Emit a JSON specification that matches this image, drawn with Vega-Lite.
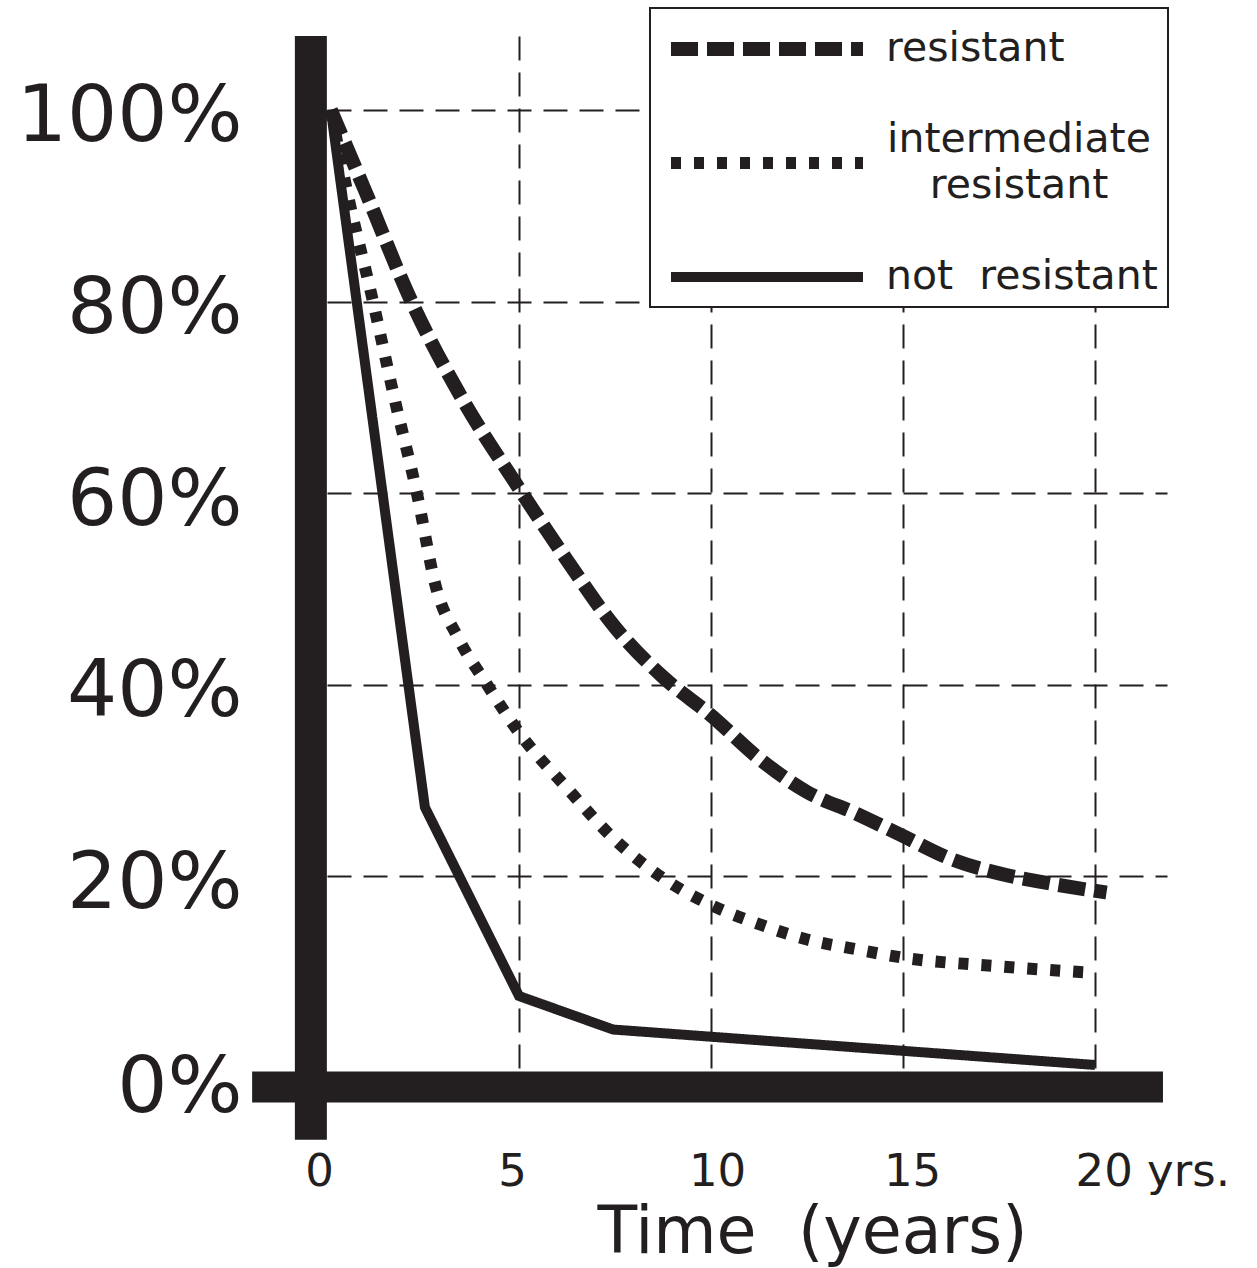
{
  "$schema": "https://vega.github.io/schema/vega-lite/v6.json",
  "autosize": {"type": "none"},
  "padding": {"left": 327, "top": 36, "right": 90, "bottom": 181},
  "width": 840,
  "height": 1051,
  "background": "white",
  "config": {
    "view": {"stroke": null},
    "font": "DejaVu Sans",
    "axis": {
      "domain": false,
      "ticks": false,
      "grid": true,
      "gridColor": "#231f20",
      "gridWidth": 2,
      "gridDash": [24, 12],
      "labelColor": "#231f20",
      "labelFont": "DejaVu Sans",
      "titleColor": "#231f20",
      "titleFont": "DejaVu Sans",
      "titleFontWeight": "normal"
    },
    "legend": {"strokeWidth": 2}
  },
  "datasets": {
    "curves": [
      {"series": "resistant", "year": 0.1, "pct": 100},
      {"series": "resistant", "year": 1.0, "pct": 91.5},
      {"series": "resistant", "year": 2.2, "pct": 80},
      {"series": "resistant", "year": 3.5, "pct": 70},
      {"series": "resistant", "year": 5.0, "pct": 60.5},
      {"series": "resistant", "year": 6.25, "pct": 53},
      {"series": "resistant", "year": 7.5, "pct": 46},
      {"series": "resistant", "year": 8.75, "pct": 40.8},
      {"series": "resistant", "year": 10.0, "pct": 36.8},
      {"series": "resistant", "year": 11.25, "pct": 32.3},
      {"series": "resistant", "year": 12.5, "pct": 28.8},
      {"series": "resistant", "year": 13.75, "pct": 26.6},
      {"series": "resistant", "year": 15.0, "pct": 24.2},
      {"series": "resistant", "year": 16.25, "pct": 21.8},
      {"series": "resistant", "year": 17.5, "pct": 20.3},
      {"series": "resistant", "year": 18.75, "pct": 19.3},
      {"series": "resistant", "year": 20.3, "pct": 18.3},
      {"series": "intermediate resistant", "year": 0.1, "pct": 100},
      {"series": "intermediate resistant", "year": 0.55, "pct": 91},
      {"series": "intermediate resistant", "year": 1.17, "pct": 80.5},
      {"series": "intermediate resistant", "year": 1.75, "pct": 70},
      {"series": "intermediate resistant", "year": 2.34, "pct": 60},
      {"series": "intermediate resistant", "year": 2.85, "pct": 50},
      {"series": "intermediate resistant", "year": 3.4, "pct": 45},
      {"series": "intermediate resistant", "year": 4.17, "pct": 40},
      {"series": "intermediate resistant", "year": 5.0, "pct": 35},
      {"series": "intermediate resistant", "year": 6.25, "pct": 29.2},
      {"series": "intermediate resistant", "year": 7.5, "pct": 23.8},
      {"series": "intermediate resistant", "year": 8.75, "pct": 19.8},
      {"series": "intermediate resistant", "year": 10.0, "pct": 17},
      {"series": "intermediate resistant", "year": 11.25, "pct": 15},
      {"series": "intermediate resistant", "year": 12.5, "pct": 13.4},
      {"series": "intermediate resistant", "year": 13.75, "pct": 12.4},
      {"series": "intermediate resistant", "year": 15.0, "pct": 11.5},
      {"series": "intermediate resistant", "year": 17.5, "pct": 10.6},
      {"series": "intermediate resistant", "year": 20.0, "pct": 9.9}
    ],
    "solid": [
      {"series": "not resistant", "year": 0.1, "pct": 100},
      {"series": "not resistant", "year": 2.55, "pct": 27.2},
      {"series": "not resistant", "year": 5.0, "pct": 7.5},
      {"series": "not resistant", "year": 7.45, "pct": 4.0},
      {"series": "not resistant", "year": 20.0, "pct": 0.3}
    ]
  },
  "layer": [
    {
      "data": {"name": "curves"},
      "mark": {"type": "line", "interpolate": "monotone", "color": "#231f20", "strokeCap": "butt"},
      "encoding": {
        "x": {
          "field": "year",
          "type": "quantitative",
          "scale": {"domain": [0, 21.875], "nice": false, "zero": false},
          "axis": {
            "values": [0, 5, 10, 15, 20],
            "labelExpr": "datum.value == 20 ? '20 yrs.' : datum.label",
            "labelFontSize": 45,
            "labelPadding": 62,
            "labelBaseline": "top",
            "labelLimit": 0,
            "labelAlign": {"condition": {"test": "datum.value == 20", "value": "left"}, "value": "center"},
            "labelOffset": {"condition": [
              {"test": "datum.value == 20", "value": -20},
              {"test": "datum.value == 0", "value": -8},
              {"test": "datum.value == 5", "value": -7},
              {"test": "datum.value == 10", "value": 6}
            ], "value": 9},
            "labelFlush": false,
            "labelOverlap": false,
            "gridOpacity": {"condition": {"test": "datum.value == 0", "value": 0}, "value": 1},
            "title": "Time\u00a0 (years)",
            "titleFontSize": 65,
            "titleX": 485,
            "titleY": 165,
            "titleAlign": "center",
            "titleBaseline": "alphabetic",
            "titleLimit": 0
          }
        },
        "y": {
          "field": "pct",
          "type": "quantitative",
          "scale": {"domain": [-2, 107.72], "nice": false, "zero": false},
          "axis": {
            "values": [0, 20, 40, 60, 80, 100],
            "labelExpr": "datum.value + '%'",
            "labelFontSize": 79,
            "labelPadding": 85,
            "labelLimit": 0,
            "labelAlign": "right",
            "labelBaseline": "middle",
            "labelOffset": {"condition": {"test": "datum.value == 0", "value": 20}, "value": 7},
            "labelFlush": false,
            "labelOverlap": false,
            "gridOpacity": {"condition": {"test": "datum.value == 0", "value": 0}, "value": 1},
            "title": null
          }
        },
        "strokeDash": {
          "field": "series",
          "type": "nominal",
          "scale": {
            "domain": ["resistant", "intermediate resistant", "not resistant"],
            "range": [[27, 9], [10, 13], [1, 0]]
          },
          "legend": {
            "orient": "none",
            "legendX": 323,
            "legendY": -28,
            "title": null,
            "symbolType": "M-4,0L4,0",
            "symbolSize": 2304,
            "symbolStrokeColor": "#231f20",
            "symbolOffset": 76,
            "labelOffset": 88,
            "labelFont": "DejaVu Sans",
            "labelFontSize": 41,
            "labelColor": "#231f20",
            "labelLimit": 0,
            "labelExpr": "datum.label == 'intermediate resistant' ? ['intermediate', 'resistant'] : (datum.label == 'not resistant' ? 'not\u00a0 resistant' : datum.label)",
            "rowPadding": 42,
            "padding": 10,
            "strokeColor": "#231f20",
            "fillColor": "white",
            "encode": {
              "labels": {
                "update": {
                  "align": {"signal": "datum.value == 'intermediate resistant' ? 'center' : 'left'"},
                  "dx": {"signal": "datum.value == 'intermediate resistant' ? 133 : 0"},
                  "dy": {"signal": "datum.value == 'intermediate resistant' ? -23 : 0"},
                  "lineHeight": {"value": 46}
                }
              }
            }
          }
        },
        "strokeWidth": {
          "field": "series",
          "type": "nominal",
          "scale": {
            "domain": ["resistant", "intermediate resistant", "not resistant"],
            "range": [14, 10, 12]
          }
        }
      }
    },
    {
      "data": {"name": "solid"},
      "mark": {"type": "line", "interpolate": "linear", "color": "#231f20", "strokeCap": "butt", "strokeJoin": "miter"},
      "encoding": {
        "x": {"field": "year", "type": "quantitative", "scale": {"domain": [0, 21.875], "nice": false, "zero": false}},
        "y": {"field": "pct", "type": "quantitative", "scale": {"domain": [-2, 107.72], "nice": false, "zero": false}},
        "strokeDash": {"field": "series", "type": "nominal"},
        "strokeWidth": {"field": "series", "type": "nominal"}
      }
    },
    {
      "data": {"values": [{}]},
      "mark": {"type": "rule", "color": "#231f20", "strokeWidth": 32, "strokeCap": "butt"},
      "encoding": {
        "x": {"datum": -0.42, "type": "quantitative"},
        "y": {"datum": 107.72, "type": "quantitative"},
        "y2": {"datum": -7.5}
      }
    },
    {
      "data": {"values": [{}]},
      "mark": {"type": "rule", "color": "#231f20", "strokeWidth": 31, "strokeCap": "butt"},
      "encoding": {
        "x": {"datum": -1.95, "type": "quantitative"},
        "x2": {"datum": 21.77},
        "y": {"datum": -2, "type": "quantitative"}
      }
    }
  ]
}
